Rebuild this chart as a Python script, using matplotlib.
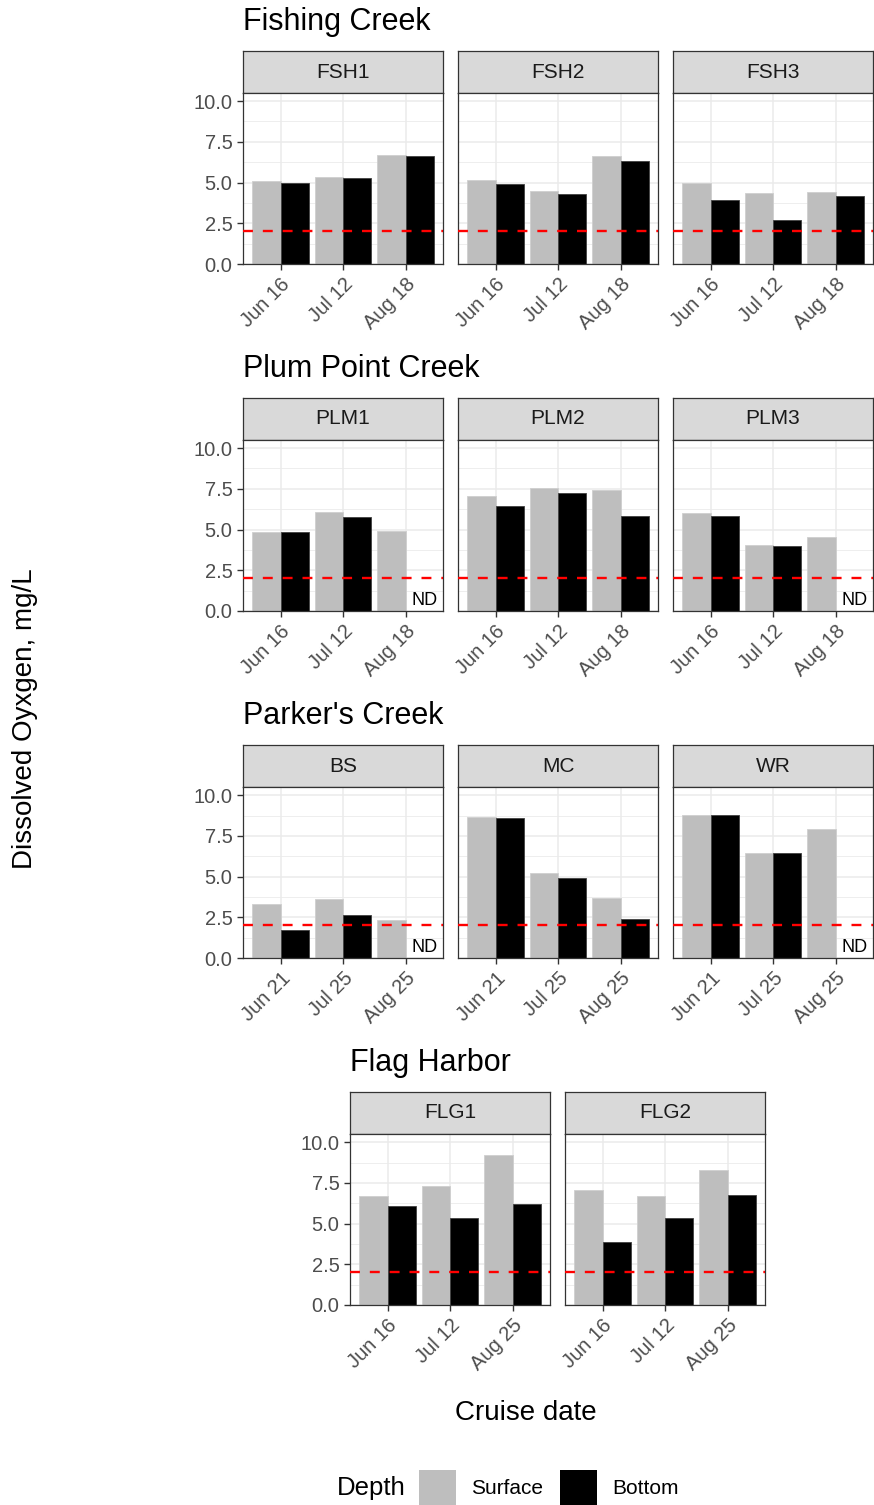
import numpy as np
import matplotlib.pyplot as plt
from matplotlib.patches import Rectangle

plt.rcParams['font.family'] = ['Liberation Sans', 'DejaVu Sans']

W, H, DPI = 874, 1505, 100
ND = np.nan

# Fishing Creek
fsh_sites = ['FSH1', 'FSH2', 'FSH3']
fsh_dates = ['Jun 16', 'Jul 12', 'Aug 18']
fsh_surface = [[5.1, 5.34, 6.67], [5.18, 4.5, 6.61], [4.95, 4.37, 4.45]]
fsh_bottom = [[4.95, 5.26, 6.63], [4.93, 4.27, 6.33], [3.94, 2.73, 4.19]]

# Plum Point Creek
plm_sites = ['PLM1', 'PLM2', 'PLM3']
plm_dates = ['Jun 16', 'Jul 12', 'Aug 18']
plm_surface = [[4.88, 6.06, 4.9], [7.09, 7.56, 7.41], [6.02, 4.07, 4.55]]
plm_bottom = [[4.86, 5.8, ND], [6.43, 7.23, 5.84], [5.82, 4.0, ND]]

# Parker's Creek
pkr_sites = ['BS', 'MC', 'WR']
pkr_dates = ['Jun 21', 'Jul 25', 'Aug 25']
pkr_surface = [[3.3, 3.63, 2.34], [8.65, 5.22, 3.71], [8.79, 6.43, 7.93]]
pkr_bottom = [[1.72, 2.62, ND], [8.57, 4.92, 2.4], [8.79, 6.43, ND]]

# Flag Harbor
flg_sites = ['FLG1', 'FLG2']
flg_dates = ['Jun 16', 'Jul 12', 'Aug 25']
flg_surface = [[6.72, 7.29, 9.24], [7.07, 6.7, 8.26]]
flg_bottom = [[6.08, 5.34, 6.2], [3.84, 5.32, 6.74]]

hypoxia_limit = 2.0
y_ticks = [0, 2.5, 5, 7.5, 10]

SURF_COL = '#BEBEBE'
BOT_COL = '#000000'
DARK = '#333333'

fig = plt.figure(figsize=(W / DPI, H / DPI), dpi=DPI)


def px_axes(x0, y0, x1, y1):
    return fig.add_axes([x0 / W, 1 - y1 / H, (x1 - x0) / W, (y1 - y0) / H])


def draw_panel(x0, top, site, dates, surf, bot, first):
    strip = px_axes(x0, top, x0 + 200, top + 42)
    strip.set_facecolor('#D9D9D9')
    strip.set_xticks([])
    strip.set_yticks([])
    for s in strip.spines.values():
        s.set_color(DARK)
        s.set_linewidth(0.9)
    strip.text(0.5, 0.5, site, ha='center', va='center', fontsize=15,
               color='#1A1A1A', transform=strip.transAxes)

    ax = px_axes(x0, top + 42, x0 + 200, top + 213)
    x = np.arange(len(dates))
    ax.bar(x - 0.225, surf, width=0.45, color=SURF_COL, edgecolor='#CFCFCF',
           linewidth=0.6, zorder=2)
    ax.bar(x + 0.225, bot, width=0.45, color=BOT_COL, edgecolor='#404040',
           linewidth=0.6, zorder=2)
    for i, v in enumerate(bot):
        if np.isnan(v):
            ax.text(i + 0.3, 0.65, 'ND', ha='center', va='center',
                    fontsize=13, color='black', zorder=4)
    ax.axhline(hypoxia_limit, color='red', lw=1.7, ls=(0, (4.2, 4.2)), zorder=3)

    ax.set_xlim(-0.6, len(dates) - 0.4)
    ax.set_ylim(0, 10.5)
    ax.set_yticks(y_ticks)
    ax.set_yticks([1.25, 3.75, 6.25, 8.75], minor=True)
    ax.set_xticks(x)
    ax.set_xticklabels(dates, rotation=45, ha='right', va='top',
                       rotation_mode='anchor')
    if first:
        ax.set_yticklabels([f'{t:.1f}' for t in y_ticks])
    else:
        ax.set_yticklabels([])
    ax.tick_params(axis='both', which='major', length=4, width=1, color=DARK,
                   labelcolor='#4D4D4D', labelsize=14.5, pad=3.5)
    ax.tick_params(axis='y', which='minor', length=0)
    if not first:
        ax.tick_params(axis='y', which='major', length=0)
    ax.grid(True, which='major', color='#EBEBEB', lw=1.1, zorder=0)
    ax.grid(True, which='minor', axis='y', color='#EBEBEB', lw=0.6, zorder=0)
    ax.set_axisbelow(True)
    for s in ax.spines.values():
        s.set_color(DARK)
        s.set_linewidth(0.9)
    return ax


groups = [
    ("Fishing Creek", fsh_sites, fsh_dates, fsh_surface, fsh_bottom, 243, 51, 22),
    ("Plum Point Creek", plm_sites, plm_dates, plm_surface, plm_bottom, 243, 398, 369),
    ("Parker's Creek", pkr_sites, pkr_dates, pkr_surface, pkr_bottom, 243, 745, 716),
    ("Flag Harbor", flg_sites, flg_dates, flg_surface, flg_bottom, 350, 1092, 1063),
]

for title, sites, dates, surf, bot, left, top, title_y in groups:
    fig.text(left / W, 1 - title_y / H, title, ha='left', va='center',
             fontsize=22, color='black')
    for k, site in enumerate(sites):
        draw_panel(left + k * 215, top, site, dates, surf[k], bot[k], k == 0)

fig.text(526 / W, 1 - 1413 / H, 'Cruise date', ha='center', va='center',
         fontsize=20, color='black')
fig.text(25 / W, 1 - 719 / H, 'Dissolved Oyxgen, mg/L', ha='center',
         va='center', rotation=90, fontsize=20, color='black')

# legend row
leg_y = 1488
fig.text(337 / W, 1 - leg_y / H, 'Depth', ha='left', va='center',
         fontsize=18.5, color='black')
for x0, col, lab in [(419, SURF_COL, 'Surface'), (560, BOT_COL, 'Bottom')]:
    fig.patches.append(Rectangle((x0 / W, 1 - 1505 / H), 37 / W, 35 / H,
                                 transform=fig.transFigure, facecolor=col,
                                 edgecolor='none'))
    fig.text((x0 + 52) / W, 1 - leg_y / H, lab, ha='left', va='center',
             fontsize=15, color='black')

fig.savefig('out.png', dpi=DPI)
